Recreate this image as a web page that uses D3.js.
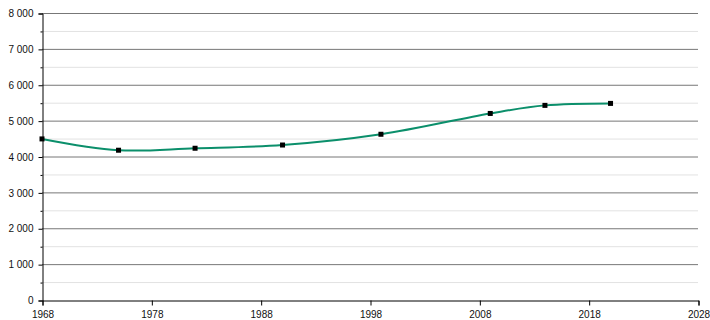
<!DOCTYPE html>
<html>
<head>
<meta charset="utf-8">
<script src="https://cdn.jsdelivr.net/npm/d3@7"></script>
<style>
  body { margin: 0; background: #fff; }
  svg { display: block; font-family: "Liberation Sans", Arial, sans-serif; }
</style>
</head>
<body>
<svg id="chart" width="710" height="320"></svg>
<script>
// Population by census year
const years = [1968, 1975, 1982, 1990, 1999, 2009, 2014, 2020];
const population = [4490, 4175, 4230, 4320, 4620, 5200, 5425, 5480];
const xTicks = [1968, 1978, 1988, 1998, 2008, 2018, 2028];
const yMajor = [0, 1000, 2000, 3000, 4000, 5000, 6000, 7000, 8000];
const yMinor = [500, 1500, 2500, 3500, 4500, 5500, 6500, 7500];

const svg = d3.select('#chart');
const plotL = 42, plotR = 698, plotT = 13, plotB = 300;

const x = d3.scaleLinear().domain([1968, 2028]).range([plotL, plotR]);
const y = d3.scaleLinear().domain([0, 8000]).range([plotB, plotT]);

const fmt = v => d3.format(',')(v).replace(/,/g, ' ');

// minor grid
svg.append('g').selectAll('line').data(yMinor).join('line')
  .attr('x1', plotL).attr('x2', plotR)
  .attr('y1', d => y(d) + 0.5).attr('y2', d => y(d) + 0.5)
  .attr('stroke', '#e2e2e2').attr('stroke-width', 1);

// major grid
svg.append('g').selectAll('line').data(yMajor.filter(d => d > 0)).join('line')
  .attr('x1', plotL).attr('x2', plotR)
  .attr('y1', d => y(d) + 0.5).attr('y2', d => y(d) + 0.5)
  .attr('stroke', '#777').attr('stroke-width', 1);

// y axis
const yAxis = svg.append('g').attr('transform', `translate(${plotL + 0.5},0.5)`)
  .call(d3.axisLeft(y).tickValues(yMajor).tickSize(4).tickPadding(5).tickFormat(fmt));
yAxis.selectAll('.domain, line').attr('stroke', '#000');
yAxis.selectAll('text').attr('font-size', 10).attr('fill', '#111')
  .attr('font-family', '"Liberation Sans", Arial, sans-serif');
svg.append('g').attr('transform', `translate(${plotL + 0.5},0.5)`)
  .call(d3.axisLeft(y).tickValues(yMinor).tickSize(2).tickFormat(''))
  .call(g => g.select('.domain').remove())
  .selectAll('line').attr('stroke', '#000');

// x axis
const xAxis = svg.append('g').attr('transform', `translate(0.5,${plotB + 0.5})`)
  .call(d3.axisBottom(x).tickValues(xTicks).tickSize(5).tickPadding(5).tickFormat(d3.format('d')));
xAxis.selectAll('.domain, line').attr('stroke', '#000');
xAxis.selectAll('text').attr('font-size', 10).attr('fill', '#111')
  .attr('font-family', '"Liberation Sans", Arial, sans-serif');

// line
const pts = years.map((yr, i) => [yr, population[i]]);
svg.append('path')
  .datum(pts)
  .attr('fill', 'none')
  .attr('stroke', '#0b8f6b')
  .attr('stroke-width', 2)
  .attr('d', d3.line().x(d => x(d[0])).y(d => y(d[1])).curve(d3.curveCatmullRom.alpha(0.5)));

// markers
svg.append('g').selectAll('rect').data(pts).join('rect')
  .attr('x', d => x(d[0]) - 2.5).attr('y', d => y(d[1]) - 2.5)
  .attr('width', 5).attr('height', 5)
  .attr('fill', '#000');
</script>
</body>
</html>
